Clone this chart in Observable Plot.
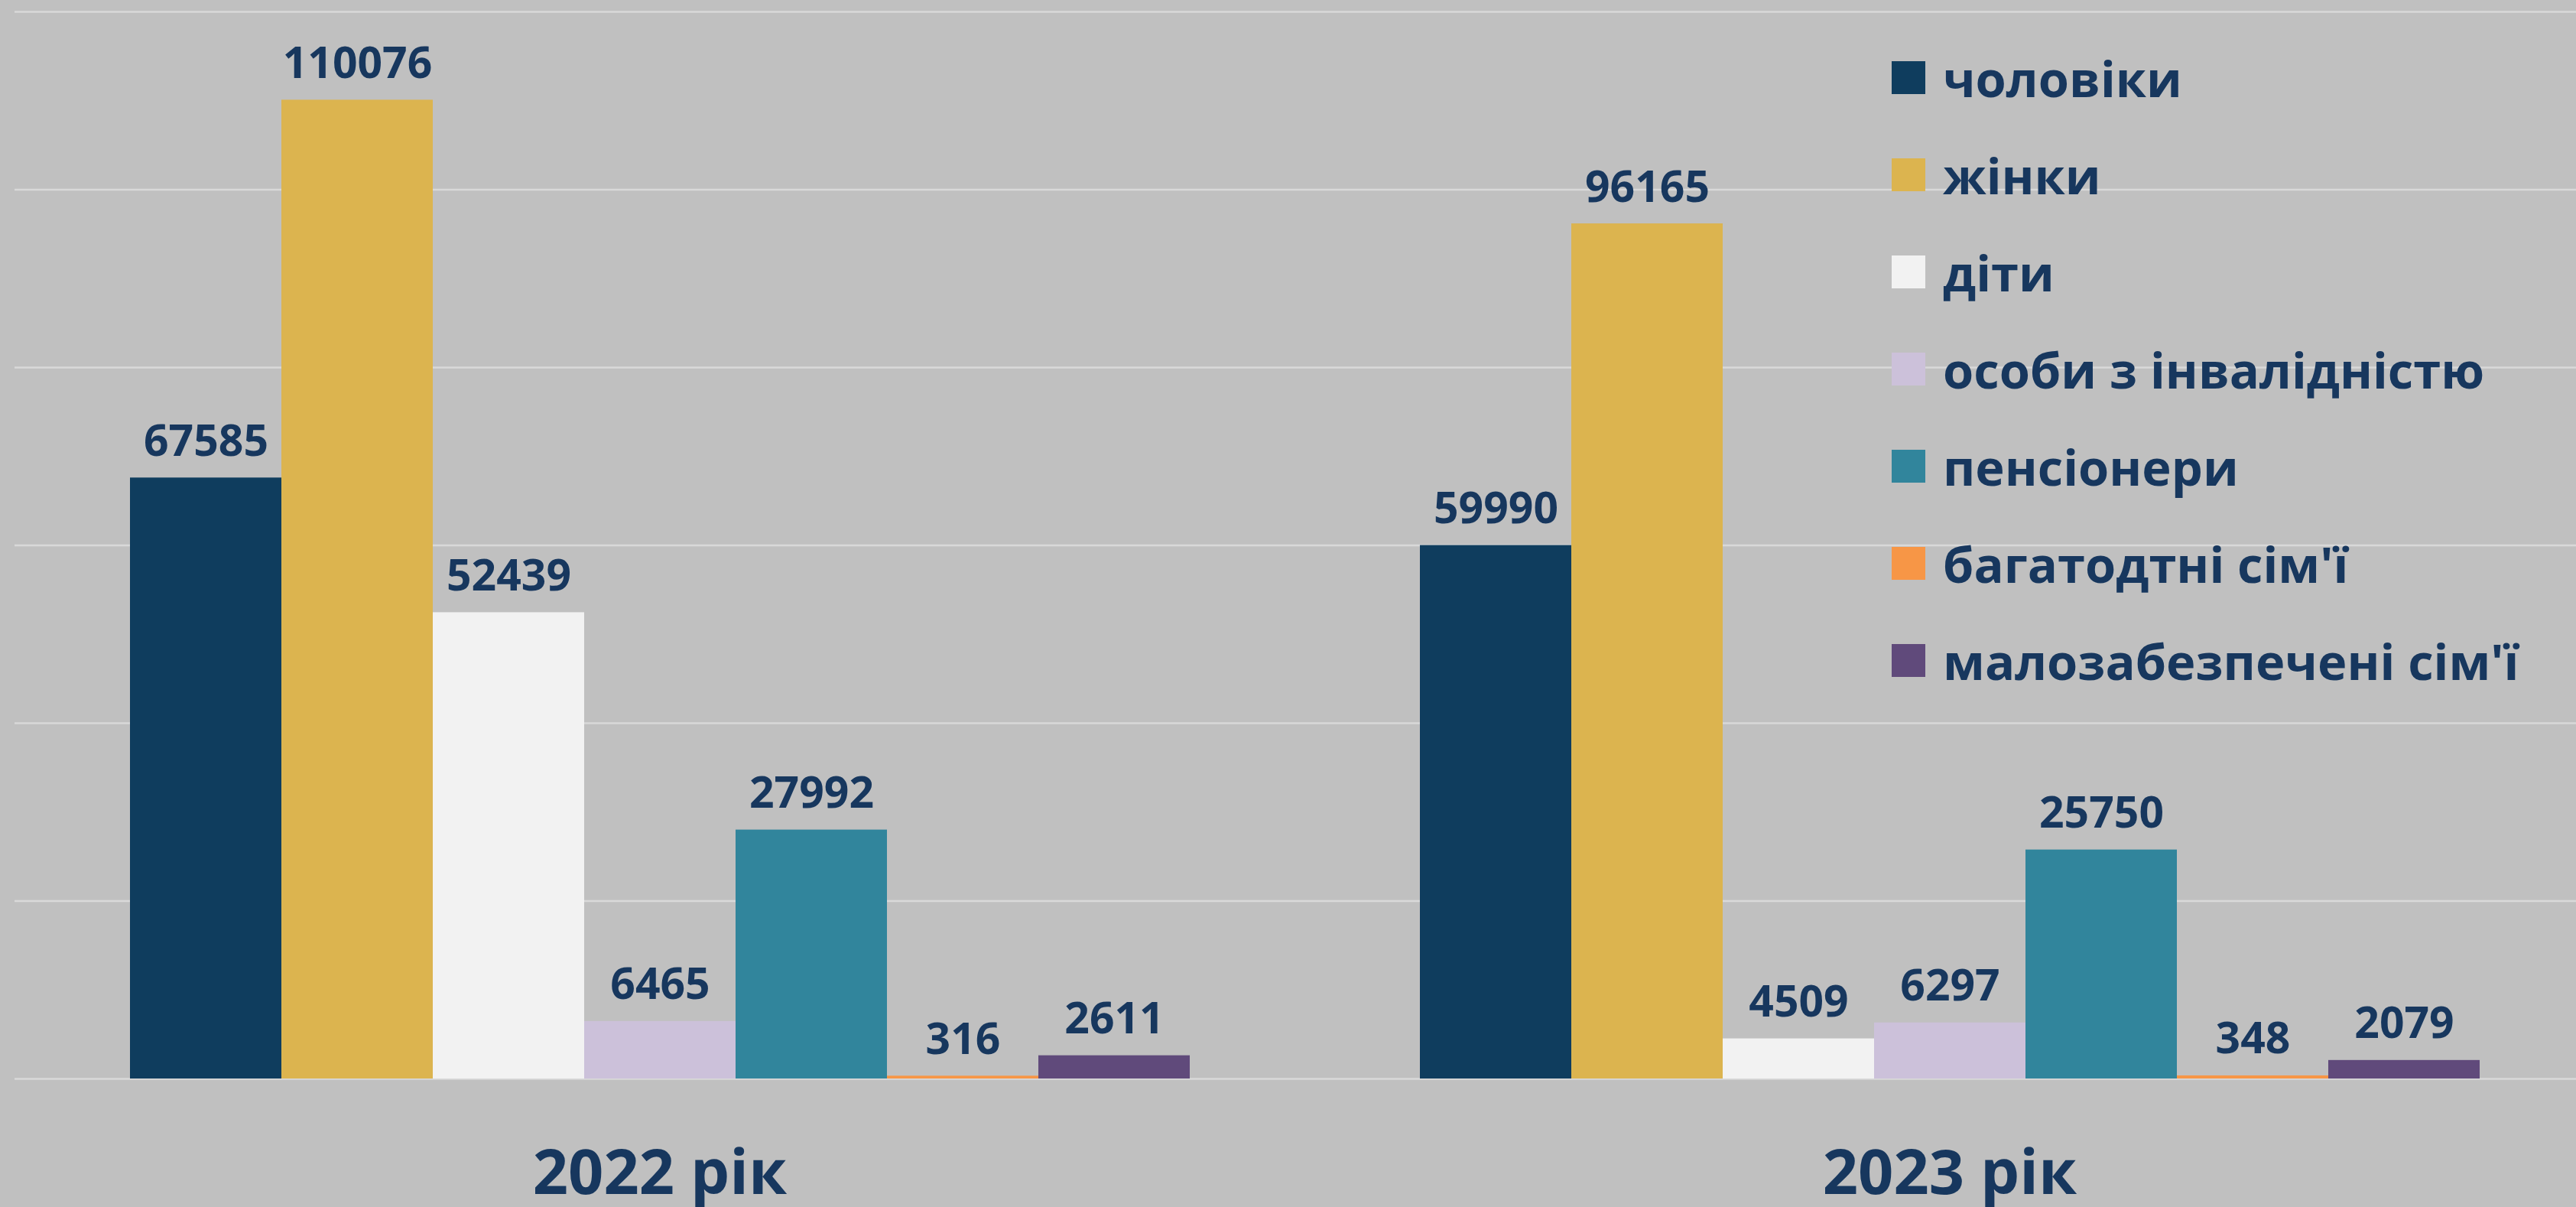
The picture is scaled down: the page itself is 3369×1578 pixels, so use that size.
<!DOCTYPE html>
<html>
<head>
<meta charset="utf-8">
<script src="https://cdn.jsdelivr.net/npm/d3@7"></script>
<script src="https://cdn.jsdelivr.net/npm/@observablehq/plot@0.6"></script>
<style>
  html, body { margin: 0; padding: 0; background: #c0c0c0; }
  #wrap { position: relative; width: 3369px; height: 1578px; overflow: hidden; background: #c0c0c0; font-family: "Open Sans", sans-serif; }
  #chart { position: absolute; left: 0; top: 0; }
  #legend { position: absolute; left: 2474px; top: 38px; margin: 0; padding: 0; list-style: none; }
  #legend li { height: 127px; display: flex; align-items: center; font-weight: 700; font-size: 65px; color: #17375e; white-space: nowrap; }
  #legend .sw { width: 44px; height: 43px; margin-right: 23px; flex: none; }
</style>
</head>
<body>
<div id="wrap">
  <div id="chart"></div>
  <ul id="legend"></ul>
</div>
<script>
const years = ["2022", "2023"];
const yearLabels = ["2022 рік", "2023 рік"];
const categories = ["чоловіки", "жінки", "діти", "особи з інвалідністю", "пенсіонери", "багатодтні сім'ї", "малозабезпечені сім'ї"];
const colors = ["#0f3d5e", "#dcb44f", "#f2f2f2", "#ccc1da", "#31859c", "#f79646", "#604a7b"];
const values2022 = [67585, 110076, 52439, 6465, 27992, 316, 2611];
const values2023 = [59990, 96165, 4509, 6297, 25750, 348, 2079];
const gridTicks = [0, 20000, 40000, 60000, 80000, 100000, 120000];

const data = [];
categories.forEach((c, i) => data.push({year: years[0], cat: c, value: values2022[i]}));
categories.forEach((c, i) => data.push({year: years[1], cat: c, value: values2023[i]}));

const textColor = "#17375e";

const chart = Plot.plot({
  width: 3369,
  height: 1578,
  marginLeft: 18,
  marginRight: -24,
  marginTop: 15,
  marginBottom: 168,
  style: {background: "transparent", fontFamily: "'Open Sans', sans-serif", overflow: "hidden"},
  fx: {domain: years, padding: 0, axis: null},
  x: {domain: categories, paddingInner: 0, paddingOuter: 0.75, axis: null},
  y: {domain: [0, 120000], axis: null},
  color: {domain: categories, range: colors},
  marks: [
    Plot.ruleY(gridTicks, {stroke: "#d9d9d9", strokeWidth: 2.5}),
    Plot.barY(data, {fx: "year", x: "cat", y: "value", fill: "cat", inset: 0}),
    Plot.text(data, {fx: "year", x: "cat", y: "value", text: d => String(d.value), lineAnchor: "bottom", dy: -29, fill: textColor, fontWeight: 700, fontSize: 57}),
    Plot.text(years, {fx: d => d, text: d => yearLabels[years.indexOf(d)], frameAnchor: "bottom", lineAnchor: "bottom", dy: 150, fill: textColor, fontWeight: 700, fontSize: 81})
  ]
});
document.getElementById("chart").appendChild(chart);

const legend = document.getElementById("legend");
categories.forEach((c, i) => {
  const li = document.createElement("li");
  const sw = document.createElement("span");
  sw.className = "sw";
  sw.style.background = colors[i];
  li.appendChild(sw);
  li.appendChild(document.createTextNode(c));
  legend.appendChild(li);
});
</script>
</body>
</html>
